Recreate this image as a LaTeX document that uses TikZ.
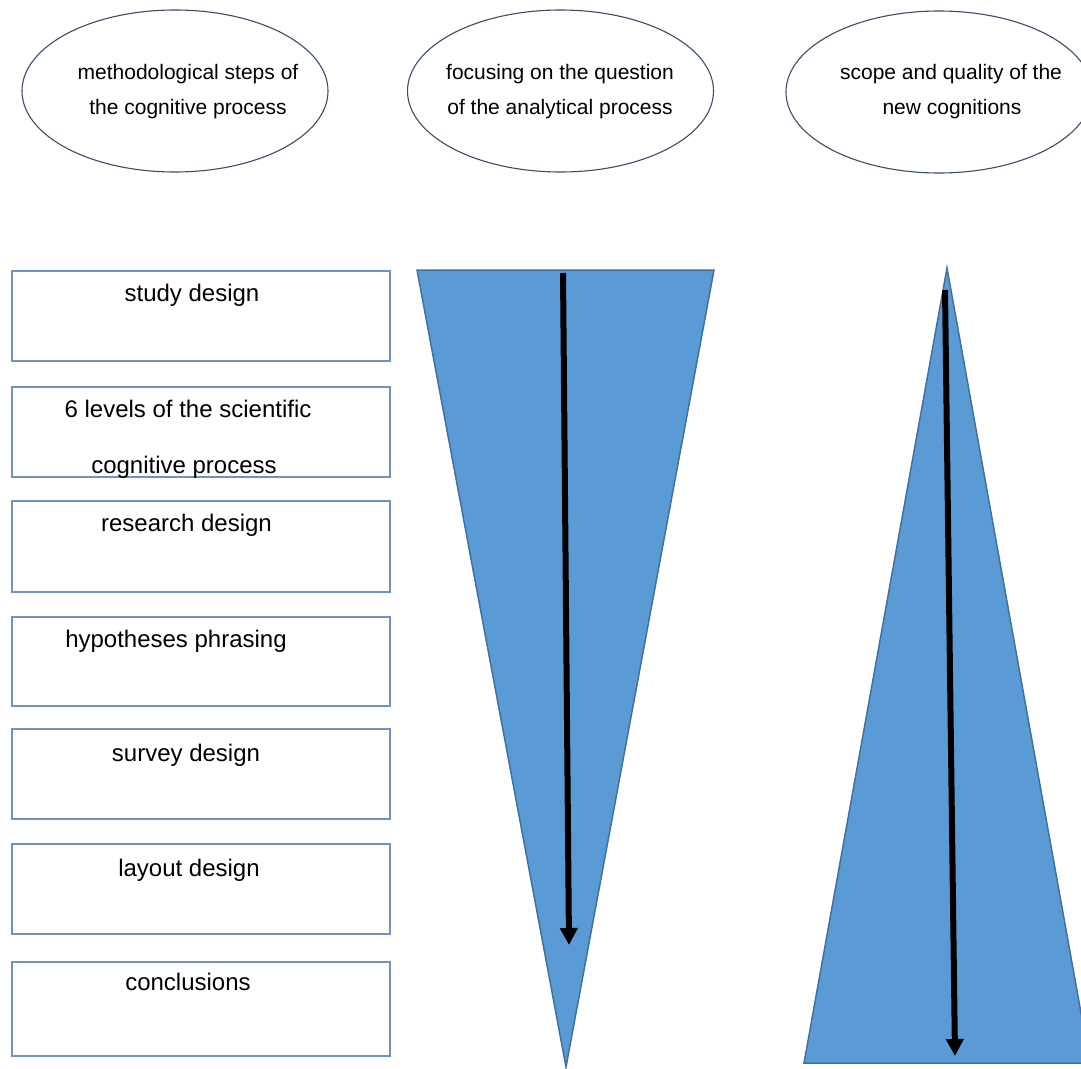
\documentclass[tikz,border=0pt]{standalone}
\usepackage{fontspec}
\setmainfont{Liberation Sans}
\usetikzlibrary{shapes.geometric,arrows.meta}
\definecolor{fillblue}{HTML}{5B9BD5}
\definecolor{edgeblue}{HTML}{41719C}
\definecolor{ellline}{HTML}{3B4D68}
\definecolor{boxline}{HTML}{7093BE}
\begin{document}
\begin{tikzpicture}[x=1pt,y=-1pt,
  ell/.style={draw=ellline,line width=1.1pt,ellipse,minimum width=306pt,minimum height=162pt,inner sep=0pt},
  etext/.style={anchor=base,inner sep=0pt,font=\fontsize{21}{25}\selectfont},
  bx/.style={draw=boxline,line width=1.3pt},
  btext/.style={anchor=base,inner sep=0pt,font=\fontsize{24}{28}\selectfont},
  tri/.style={fill=fillblue,draw=edgeblue,line width=1.5pt,line join=miter},
  arr/.style={line width=6pt,-{Triangle[width=17pt,length=17pt]}}]
\useasboundingbox (0,0) rectangle (1081,1068);
\clip (0,0) rectangle (1081,1068);
% ellipses
\node[ell] (e1) at (175,91) {};
\node[ell] (e2) at (560.5,91) {};
\node[ell] (e3) at (939,92) {};
\node[etext] (e1a) at (188,79) {methodological steps of};
\node[etext] (e1b) at (188,114) {the cognitive process};
\node[etext] (e2a) at (560,79) {focusing on the question};
\node[etext] (e2b) at (560,114) {of the analytical process};
\node[etext] (e3a) at (951,79) {scope and quality of the};
\node[etext] (e3b) at (952,114) {new cognitions};
% boxes
\draw[bx] (12,271) rectangle (390,361);
\draw[bx] (12,387) rectangle (390,477);
\draw[bx] (12,501) rectangle (390,592);
\draw[bx] (12,617) rectangle (390,706);
\draw[bx] (12,729) rectangle (390,819);
\draw[bx] (12,844) rectangle (390,934);
\draw[bx] (12,962) rectangle (390,1056);
\node[btext] (b1) at (192,301) {study design};
\node[btext] (b2a) at (188,417) {6 levels of the scientific};
\node[btext] (b2b) at (184,473) {cognitive process};
\node[btext] (b3) at (186.5,531) {research design};
\node[btext] (b4) at (176,647) {hypotheses phrasing};
\node[btext] (b5) at (186,761) {survey design};
\node[btext] (b6) at (189,876) {layout design};
\node[btext] (b7) at (188,990) {conclusions};
% triangles
\draw[tri] (417,270) -- (714,270) -- (566,1067) -- cycle;
\draw[tri] (947,268) -- (1090,1063) -- (804,1063) -- cycle;
% arrows
\coordinate (a1s) at (563,273);
\coordinate (a1e) at (569,945);
\coordinate (a2s) at (945,290);
\coordinate (a2e) at (955,1056);
\draw[arr] (a1s) -- (a1e);
\draw[arr] (a2s) -- (a2e);
\end{tikzpicture}
\end{document}
